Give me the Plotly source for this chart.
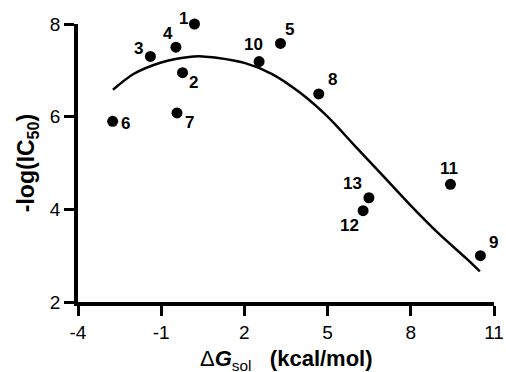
import plotly.graph_objects as go

# Data
compound_ids = ["1", "2", "3", "4", "5", "6", "7", "8", "9", "10", "11", "12", "13"]
dg_sol = [0.20, -0.23, -1.39, -0.47, 3.30, -2.75, -0.43, 4.68, 10.51, 2.53, 9.43, 6.28, 6.49]
neg_log_ic50 = [8.00, 6.95, 7.30, 7.50, 7.58, 5.90, 6.08, 6.49, 3.00, 7.19, 4.54, 3.97, 4.25]

# fitted curve
fit_x = [-2.74, -2.0, -1.0, 0.0, 0.5, 1.0, 2.0, 3.0, 4.0, 5.0, 6.0, 7.0, 8.0, 9.0, 10.0, 10.49]
fit_y = [6.58, 6.92, 7.17, 7.29, 7.30, 7.27, 7.16, 6.92, 6.52, 6.00, 5.36, 4.72, 4.08, 3.48, 2.94, 2.66]

x_ticks = [-4, -1, 2, 5, 8, 11]
x_tick_labels = ["-4", "-1", "2", "5", "8", "11"]
y_ticks = [2, 4, 6, 8]
y_tick_labels = ["2", "4", "6", "8"]

# label offsets (pixels) for each compound label
label_dx = [-11, 11, -12, -8, 9, 13, 12, 14, 13, -6, -1, -14, -16]
label_dy = [6, -10, 8, 14, 14, -2, -10, 14, 13, 17, 16, -15, 14]

FONT = "Liberation Sans, Arial, sans-serif"

fig = go.Figure()
fig.add_trace(go.Scatter(x=fit_x, y=fit_y, mode="lines",
                         line=dict(color="black", width=2.5, shape="spline", smoothing=0.8),
                         hoverinfo="skip", showlegend=False))
fig.add_trace(go.Scatter(x=dg_sol, y=neg_log_ic50, mode="markers",
                         marker=dict(color="black", size=11),
                         showlegend=False, cliponaxis=False))

for cid, x, y, dx, dy in zip(compound_ids, dg_sol, neg_log_ic50, label_dx, label_dy):
    fig.add_annotation(x=x, y=y, text="<b>%s</b>" % cid, showarrow=False,
                       xshift=dx, yshift=dy,
                       font=dict(family=FONT, size=17, color="black"))

# x-axis title as an annotation so it can sit as low as in the reference
fig.add_annotation(x=0.5, y=0, xref="paper", yref="paper", xanchor="center", yanchor="top",
                   yshift=-42, showarrow=False,
                   text="Δ<b><i>G</i></b><sub>sol</sub>   <b>(kcal/mol)</b>",
                   font=dict(family=FONT, size=22, color="black"))

fig.update_layout(
    width=506, height=372,
    margin=dict(l=78, r=12, t=24, b=70),
    paper_bgcolor="white", plot_bgcolor="white",
    font=dict(family=FONT, color="black"),
)
fig.update_xaxes(range=[-4, 11], tickvals=x_ticks, ticktext=x_tick_labels,
                 showgrid=False, zeroline=False, automargin=False,
                 showline=True, linecolor="black", linewidth=3.5,
                 ticks="outside", ticklen=10, tickwidth=3, tickcolor="black",
                 tickfont=dict(size=19, family=FONT))
fig.update_yaxes(range=[2, 8], tickvals=y_ticks, ticktext=y_tick_labels,
                 showgrid=False, zeroline=False, automargin=False,
                 showline=True, linecolor="black", linewidth=3.5,
                 ticks="outside", ticklen=10, tickwidth=3, tickcolor="black",
                 tickfont=dict(size=19, family=FONT),
                 title=dict(text="<b>-log(IC<sub>50</sub>)</b>",
                            font=dict(size=23, family=FONT), standoff=10))

fig.write_html("out.html", config={"displayModeBar": False},
               post_script="document.body.style.margin='0px';document.body.style.overflow='hidden';")
